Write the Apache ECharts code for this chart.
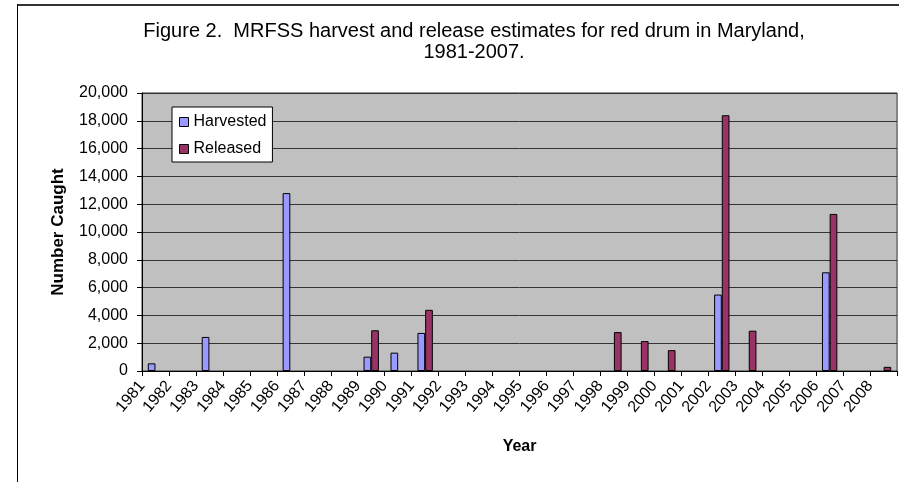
<!DOCTYPE html>
<html><head><meta charset="utf-8">
<script src="https://cdn.jsdelivr.net/npm/echarts@6/dist/echarts.min.js"></script>
<style>html,body{margin:0;padding:0;background:#fff}#c{width:899px;height:482px}</style>
</head><body><div id="c"></div>
<script>
// Categories (one bar slot per year)
const years = ['1981','1982','1983','1984','1985','1986','1987','1988','1989','1990',
  '1991','1992','1993','1994','1995','1996','1997','1998','1999','2000',
  '2001','2002','2003','2004','2005','2006','2007','2008'];
// Tick labels as printed under the axis (placed on the tick marks)
const tickLabels = ['1981','1982','1983','1984','1985','1986','1987','1988','1989','1990',
  '1991','1992','1993','1994','1995','1996','1997','1998','1999','2000',
  '2001','2002','2003','2004','2005','2006','2007','2008',''];
// null = no bar drawn for that year
const harvested = [550,null,2450,null,null,12800,null,null,1030,1320,
  2740,null,null,null,null,null,null,null,null,null,
  null,5500,null,null,null,7100,null,null];
const released = [null,null,null,null,null,null,null,null,2930,null,
  4400,null,null,null,null,null,null,2800,2150,1500,
  null,18400,2900,null,null,11300,null,300];
const seriesNames = ['Harvested','Released'];
const titleText = 'Figure 2.  MRFSS harvest and release estimates for red drum in Maryland,\n1981-2007.';

const FONT = '"Liberation Sans", Arial, sans-serif';
const chart = echarts.init(document.getElementById('c'), null, {renderer:'canvas'});
chart.setOption({
  animation:false,
  backgroundColor:'#ffffff',
  textStyle:{fontFamily:FONT, color:'#000'},
  title:{
    text:titleText, left:469, top:16, textAlign:'center',
    textStyle:{fontFamily:FONT, fontSize:20, fontWeight:'normal', color:'#000', lineHeight:21}
  },
  legend:{
    orient:'vertical', left:172, top:107,
    data:seriesNames,
    icon:'rect', itemWidth:9, itemHeight:9, itemGap:11,
    backgroundColor:'#ffffff', borderColor:'#000', borderWidth:1,
    padding:[7,6,5,7],
    textStyle:{fontFamily:FONT, fontSize:16, color:'#000'},
    itemStyle:{borderColor:'#000', borderWidth:1}
  },
  grid:{
    left:142, top:93, width:758, height:278,
    show:true, backgroundColor:'#c0c0c0', borderColor:'#333', borderWidth:1
  },
  xAxis:[{
    type:'category', data:years, boundaryGap:true,
    axisLine:{show:true, lineStyle:{color:'#000', width:1}},
    axisTick:{show:true, length:5, interval:0, lineStyle:{color:'#000'}},
    axisLabel:{show:false},
    splitLine:{show:false}
  },{
    type:'category', data:tickLabels, boundaryGap:false, position:'bottom',
    axisLine:{show:false}, axisTick:{show:false},
    axisLabel:{show:true, interval:0, rotate:50, margin:12,
      fontFamily:FONT, fontSize:16, color:'#000'},
    splitLine:{show:false},
    name:'Year', nameLocation:'middle', nameGap:68,
    nameTextStyle:{fontFamily:FONT, fontSize:16, fontWeight:'bold', color:'#000'}
  }],
  yAxis:{
    type:'value', min:0, max:20000, interval:2000,
    axisLine:{show:true, lineStyle:{color:'#000'}},
    axisTick:{show:true, length:5, lineStyle:{color:'#000'}},
    axisLabel:{margin:14, fontFamily:FONT, fontSize:16, color:'#000',
      formatter:v=>v.toLocaleString('en-US')},
    splitLine:{show:true, lineStyle:{color:'#333', width:1}},
    name:'Number Caught', nameLocation:'middle', nameGap:75,
    nameTextStyle:{fontFamily:FONT, fontSize:17, fontWeight:'bold', color:'#000'}
  },
  series:[{
    name:seriesNames[0], type:'bar', xAxisIndex:0, data:harvested,
    barGap:'0%', barCategoryGap:'43%',
    itemStyle:{color:'#9999ff', borderColor:'#000', borderWidth:1}
  },{
    name:seriesNames[1], type:'bar', xAxisIndex:0, data:released,
    barGap:'0%', barCategoryGap:'43%',
    itemStyle:{color:'#993366', borderColor:'#000', borderWidth:1}
  }],
  graphic:[
    {type:'line', shape:{x1:17, y1:5, x2:899, y2:5}, style:{stroke:'#333', lineWidth:2}, silent:true},
    {type:'line', shape:{x1:17.5, y1:4, x2:17.5, y2:482}, style:{stroke:'#000', lineWidth:1}, silent:true}
  ]
});
</script></body></html>
